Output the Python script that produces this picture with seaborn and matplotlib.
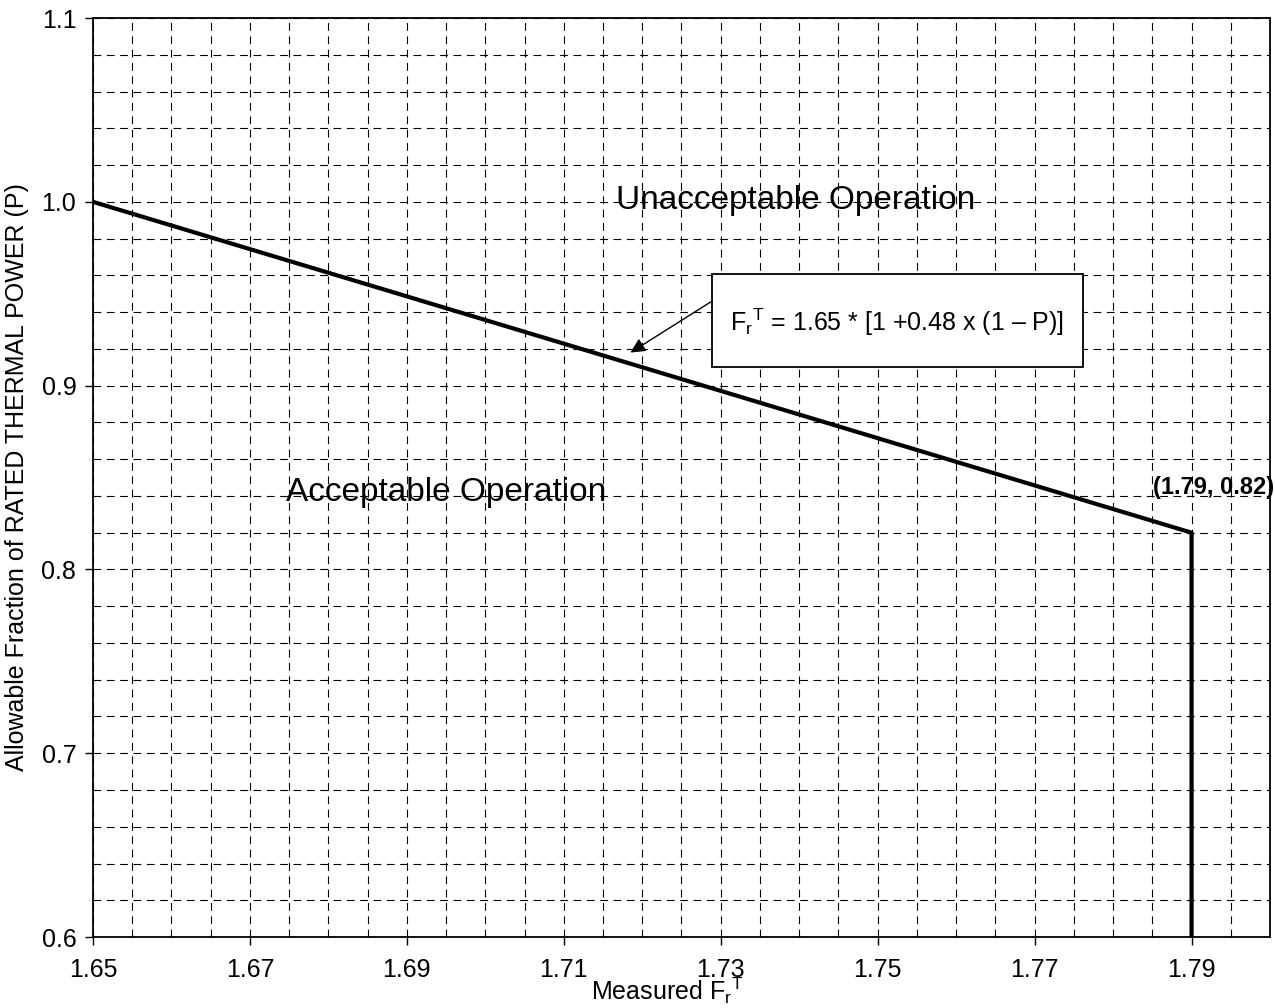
import matplotlib
matplotlib.use("Agg")
import matplotlib.pyplot as plt
import seaborn as sns
import numpy as np
import pandas as pd
from matplotlib.ticker import MultipleLocator
from matplotlib.patches import Rectangle

# Data
frt_values = [1.65, 1.79, 1.79]
power_values = [1.0, 0.82, 0.6]
x_ticks = [1.65, 1.67, 1.69, 1.71, 1.73, 1.75, 1.77, 1.79]
y_ticks = [0.6, 0.7, 0.8, 0.9, 1.0, 1.1]

sns.set_style("ticks")
plt.rcParams['font.family'] = ['Liberation Sans', 'DejaVu Sans']
plt.rcParams['mathtext.fontset'] = 'custom'
plt.rcParams['mathtext.rm'] = 'Liberation Sans'
plt.rcParams['mathtext.it'] = 'Liberation Sans'
plt.rcParams['text.color'] = 'black'
plt.rcParams['axes.labelcolor'] = 'black'

df = pd.DataFrame({"FrT": frt_values, "P": power_values})

fig = plt.figure(figsize=(12.75, 10.08), dpi=100)
ax = fig.add_axes([0.0729, 0.0704, 0.9232, 0.9117])

sns.lineplot(data=df, x="FrT", y="P", sort=False, color="black", linewidth=3.0, ax=ax,
             zorder=3, estimator=None)

ax.set_xlim(1.65, 1.80)
ax.set_ylim(0.6, 1.1)
ax.set_xticks(x_ticks)
ax.set_xticklabels([f"{v:.2f}" for v in x_ticks])
ax.set_yticks(y_ticks)
ax.set_yticklabels([f"{v:.1f}" for v in y_ticks])
ax.xaxis.set_minor_locator(MultipleLocator(0.005))
ax.yaxis.set_minor_locator(MultipleLocator(0.02))
ax.grid(which="both", axis="both", color="black", linestyle=(0, (7, 5)), linewidth=0.8)
ax.tick_params(axis="both", which="major", labelsize=18, length=6, width=1, direction="out",
               colors="black")
ax.tick_params(axis="x", which="major", pad=9)
ax.tick_params(axis="y", which="major", pad=6)
ax.tick_params(axis="both", which="minor", length=0)
for s in ax.spines.values():
    s.set_visible(True)
    s.set_color("black")
    s.set_linewidth(1.3)

ax.set_xlabel(r"Measured F$_\mathregular{r}$$^\mathregular{T}$", fontsize=18, labelpad=-5)
ax.xaxis.label.set_x(0.488)
ax.set_ylabel("Allowable Fraction of RATED THERMAL POWER (P)", fontsize=18, labelpad=9)

ax.text(1.7396, 1.0005, "Unacceptable Operation", fontsize=24, ha="center", va="center")
ax.text(1.695, 0.842, "Acceptable Operation", fontsize=24, ha="center", va="center")
ax.text(1.7928, 0.8446, "(1.79, 0.82)", fontsize=17, fontweight="bold", ha="center", va="center")

# equation box
ax.add_patch(Rectangle((1.7289, 0.9103), 1.7762 - 1.7289, 0.9609 - 0.9103,
                       facecolor="white", edgecolor="black", lw=1.3, zorder=5))
ax.text(1.7525, 0.9345, r"F$_\mathregular{r}$$^\mathregular{T}$ = 1.65 * [1 +0.48 x (1 – P)]",
        fontsize=18, ha="center", va="center", zorder=6)
ax.annotate("", xy=(1.7185, 0.918), xytext=(1.7289, 0.946),
            arrowprops=dict(arrowstyle="-|>", color="black", lw=1, mutation_scale=22,
                            shrinkA=0, shrinkB=0), zorder=6)

fig.savefig("out.png", dpi=100)
